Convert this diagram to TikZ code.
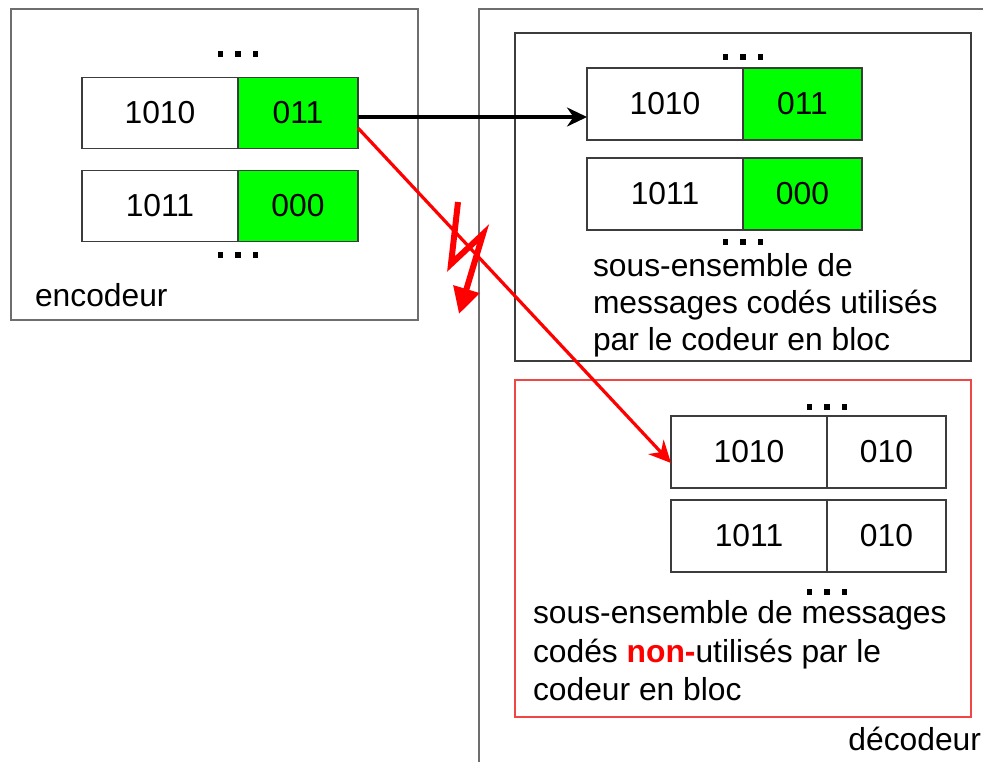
\documentclass[tikz,border=0pt]{standalone}
\usepackage{fontspec}
\setmainfont{Liberation Sans}
\usetikzlibrary{arrows.meta}
\definecolor{boxgray}{RGB}{110,110,110}
\definecolor{cellgray}{RGB}{60,60,60}
\definecolor{lgreen}{RGB}{0,255,0}
\definecolor{pred}{RGB}{255,0,0}
\definecolor{boxred}{RGB}{240,70,70}
\tikzset{
  every node/.style={font=\fontsize{31.8}{37}\selectfont, inner sep=0pt, outer sep=0pt},
  cell/.style={draw=cellgray, line width=1.4pt, minimum height=71pt},
  wcell/.style={cell, fill=white, minimum width=156pt},
  gcell/.style={cell, fill=lgreen, minimum width=120pt},
  plain/.style={cell, fill=white, minimum width=119pt},
  tdots/.pic={\fill (-20,-2.7) rectangle (-14.6,2.7); \fill (-2.7,-2.7) rectangle (2.7,2.7); \fill (14.6,-2.7) rectangle (20,2.7);},
  lbl/.style={anchor=base west},
}
\begin{document}
\begin{tikzpicture}[x=1pt,y=-1pt]
\useasboundingbox (0,0) rectangle (983,761);
% encodeur
\draw[boxgray, line width=1.4pt] (11,9) rectangle (418,320);
\pic at (238,54) {tdots};
\node[wcell] (e1a) at (160,113) {1010};
\node[gcell] (e1b) at (298,113) {011};
\node[wcell] (e2a) at (160,206) {1011};
\node[gcell] (e2b) at (298,206) {000};
\pic at (238,255) {tdots};
\node[lbl] (enc) at (35,306) {encodeur};
% decodeur
\draw[boxgray, line width=1.4pt] (479,770) -- (479,9) -- (995,9);
\node[anchor=base east] (dec) at (981,750) {décodeur};
% upper subset
\draw[cellgray, line width=1.4pt] (515,33) rectangle (971,361);
\pic at (743,57) {tdots};
\node[wcell, minimum height=72pt] (d1a) at (665,104) {1010};
\node[gcell, minimum width=119pt, minimum height=72pt] (d1b) at (802.5,104) {011};
\node[wcell, minimum height=72pt] (d2a) at (665,194) {1011};
\node[gcell, minimum width=119pt, minimum height=72pt] (d2b) at (802.5,194) {000};
\pic at (743,242) {tdots};
\node[lbl] (t1) at (593,276) {sous-ensemble de};
\node[lbl] (t2) at (593,313) {messages codés utilisés};
\node[lbl] (t3) at (593,350) {par le codeur en bloc};
% lower subset
\draw[boxred, line width=1.4pt] (515,380) rectangle (971,717);
\pic at (827,407) {tdots};
\node[wcell, minimum height=72pt] (l1a) at (749,452) {1010};
\node[plain, minimum height=72pt] (l1b) at (886.5,452) {010};
\node[wcell, minimum height=72pt] (l2a) at (749,536) {1011};
\node[plain, minimum height=72pt] (l2b) at (886.5,536) {010};
\pic at (827,592) {tdots};
\node[lbl] (u1) at (533,623) {sous-ensemble de messages};
\node[lbl] (u2) at (533,662) {codés {\color{pred}\bfseries non-}utilisés par le};
\node[lbl] (u3) at (533,700) {codeur en bloc};
% arrows
\draw[line width=3.2pt, -{Stealth[length=20pt,width=19pt]}] (e1b.east |- 0,117) -- (d1a.west |- 0,117);
\draw[pred, line width=3.2pt, -{Stealth[length=22pt,width=21pt]}] (e1b.east |- 0,128) -- (l1a.west |- 0,463);
% lightning
\draw[pred, line width=6pt, line join=miter, -{Triangle[length=26pt,width=26pt]}] (458,202) -- (451,264) -- (483,234) -- (459,314);
\end{tikzpicture}
\end{document}
